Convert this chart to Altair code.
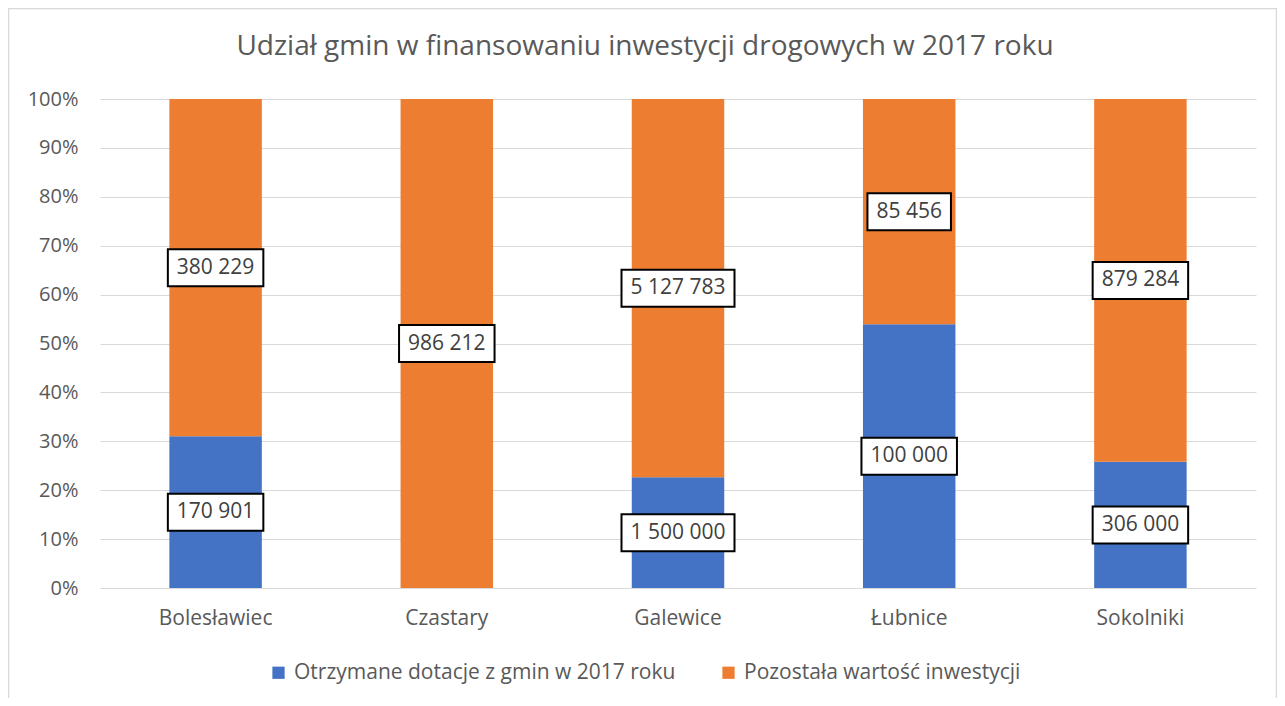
import altair as alt
import pandas as pd

tytul = "Udział gmin w finansowaniu inwestycji drogowych w 2017 roku"
gminy = ["Bolesławiec", "Czastary", "Galewice", "Łubnice", "Sokolniki"]
serie = ["Otrzymane dotacje z gmin w 2017 roku", "Pozostała wartość inwestycji"]
dotacje = [170901, 0, 1500000, 100000, 306000]
pozostala = [380229, 986212, 5127783, 85456, 879284]
y_ticks = [0, 0.1, 0.2, 0.3, 0.4, 0.5, 0.6, 0.7, 0.8, 0.9, 1.0]
kolory = ["#4472C4", "#ED7D31"]

rows = []
for g, d, p in zip(gminy, dotacje, pozostala):
    rows.append({"gmina": g, "seria": serie[0], "value": d, "order": 0})
    rows.append({"gmina": g, "seria": serie[1], "value": p, "order": 1})
df = pd.DataFrame(rows)

FONT = "Open Sans"
TXT = "#595959"

X = alt.X("gmina:N", sort=gminy, title=None,
          scale=alt.Scale(paddingInner=0.6, paddingOuter=0.3),
          axis=alt.Axis(labelAngle=0, domain=False, ticks=False, grid=False,
                        labelPadding=19, labelFontSize=21))

base = alt.Chart(df).transform_stack(
    stack="value", groupby=["gmina"], as_=["y0", "y1"], offset="normalize",
    sort=[alt.SortField("order", order="ascending")]
).transform_calculate(
    mid="(datum.y0 + datum.y1) / 2",
    label="replace(format(datum.value, ','), regexp(',', 'g'), ' ')",
)

bars = base.mark_bar().encode(
    x=X,
    y=alt.Y("y0:Q", title=None,
            scale=alt.Scale(domain=[0, 1], nice=False),
            axis=alt.Axis(format="%", values=y_ticks, domain=False, ticks=False,
                          grid=True, gridColor="#D9D9D9", gridWidth=1,
                          labelPadding=22)),
    y2="y1:Q",
    color=alt.Color("seria:N", sort=serie,
                    scale=alt.Scale(domain=serie, range=kolory),
                    legend=alt.Legend(title=None, orient="none", direction="horizontal",
                                      legendX=168, legendY=563,
                                      symbolType="square", symbolSize=150,
                                      symbolStrokeWidth=0, labelFont=FONT,
                                      labelFontSize=21, labelColor=TXT,
                                      labelLimit=1000,
                                      labelOffset=5, columnPadding=42,
                                      padding=0)),
    order=alt.Order("order:Q"),
)

lab = base.transform_filter("datum.value > 0").transform_calculate(
    nd="length(replace(datum.label, regexp(' ', 'g'), ''))"
).transform_calculate(
    w="12 * datum.nd + 5.5 * (length(datum.label) - datum.nd) + 18"
)

boxes = lab.mark_bar(
    width=alt.expr("datum.w"), fill="white", stroke="black", strokeWidth=2,
    yOffset=-18.5, y2Offset=18.5,
).encode(x=X, y=alt.Y("mid:Q"), y2="mid:Q")

texts = lab.mark_text(font=FONT, fontSize=21, color="#404040",
                      baseline="middle", align="center").encode(
    x=X, y=alt.Y("mid:Q"), text="label:N")

frame = alt.Chart(pd.DataFrame({"a": [0]})).mark_rect(
    filled=False, stroke="#D9D9D9", strokeWidth=1.5
).encode(x=alt.value(-91.5), x2=alt.value(1176.5),
         y=alt.value(-90.5), y2=alt.value(700))

title = alt.Chart(pd.DataFrame({"t": [tytul]})).mark_text(
    font=FONT, fontSize=28, color=TXT, baseline="middle", align="center"
).encode(text="t:N", x=alt.value(545), y=alt.value(-52))

chart = alt.layer(frame, title, bars, boxes, texts).properties(
    width=1156, height=489,
    autosize=alt.AutoSizeParams(type="none"),
    padding={"left": 92, "top": 91, "right": 21, "bottom": 110},
).configure_view(stroke=None).configure_axis(
    labelFont=FONT, labelFontSize=20, labelColor=TXT
)

chart.save("out.html", embed_options={"renderer": "svg", "actions": False})
